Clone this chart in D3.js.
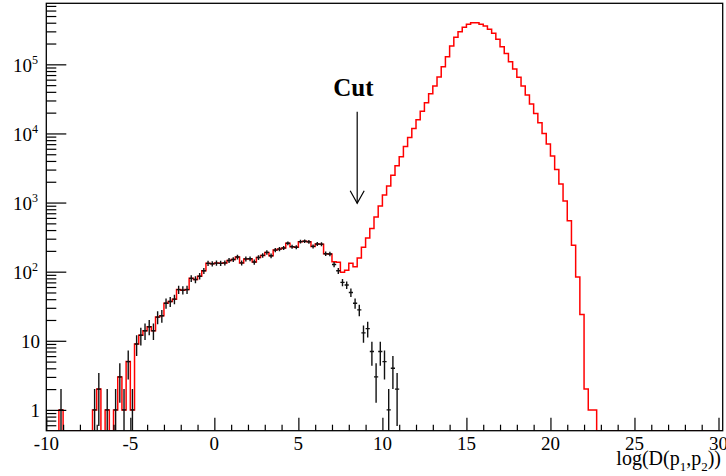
<!DOCTYPE html>
<html>
<head>
<meta charset="utf-8">
<script src="https://cdn.jsdelivr.net/npm/d3@7"></script>
<style>
  body { margin: 0; background: #fff; }
  svg { display: block; }
  text { font-family: "Liberation Serif", "Times New Roman", serif; fill: #000; }
</style>
</head>
<body>
<svg class="hist" width="726" height="476"></svg>
<script>
// histogram binning (lower edge of first bin, bin width, upper end of axis)
let histLow = -10;
let binWidth = 0.25;
let histHigh = 30.25;

// red histogram: counts per bin, starting at -10
let redCounts = [
  0, 0, 0, 1, 0, 0, 0, 0, 0, 0,
  0, 1, 2, 0, 1, 0, 1, 3, 1, 5,
  1, 9, 12, 14, 16, 14, 22, 23, 35, 37,
  40, 55, 54, 55, 80, 77, 86, 103, 132, 130,
  133, 132, 134, 145, 150, 163, 134, 153, 154, 138,
  160, 172, 190, 170, 205, 212, 220, 258, 230, 226,
  272, 276, 270, 232, 252, 250, 182, 180, 139, 137,
  98, 105, 132, 118, 158, 226, 306, 423, 620, 893,
  1282, 1730, 2494, 3404, 4592, 6480, 8770, 11840, 15800, 20900,
  27800, 37400, 48500, 65400, 92300, 128800, 184000, 246000, 296000, 343000,
  379000, 400000, 400000, 379000, 358000, 321000, 281000, 230000, 180000, 144000,
  109000, 85500, 64800, 48500, 36000, 26600, 19500, 14300, 10000, 7020,
  4710, 3020, 1850, 1050, 545, 242, 84, 24, 2, 1,
  1, 0, 0, 0, 0, 0, 0, 0, 0, 0,
  0, 0, 0, 0, 0, 0, 0, 0, 0, 0,
  0, 0, 0, 0, 0, 0, 0, 0, 0, 0,
  0
];

// black points (with sqrt(N) errors): counts per bin, starting at -10
let blackCounts = [
  0, 0, 0, 1, 0, 0, 0, 0, 0, 0,
  0, 1, 2, 0, 1, 0, 1, 3, 1, 5,
  1, 9, 12, 14, 16, 14, 22, 23, 35, 37,
  40, 55, 54, 55, 80, 77, 86, 103, 132, 130,
  133, 132, 134, 145, 150, 163, 134, 153, 154, 138,
  160, 172, 190, 170, 205, 212, 220, 258, 230, 226,
  272, 276, 270, 232, 252, 250, 182, 180, 127, 103,
  70, 64, 50, 35, 28, 13, 15, 7, 3, 7,
  5, 1, 4, 2
];

// axis ticks and labels
let xMajorTicks = [-10, -5, 0, 5, 10, 15, 20, 25, 30];
let xTickLabels = ['-10', '-5', '0', '5', '10', '15', '20', '25', '30'];
let yMajorTicks = [1, 10, 100, 1000, 10000, 100000];
let yTickBase = ['1', '10', '10', '10', '10', '10'];
let yTickExp = ['', '', '2', '3', '4', '5'];

// cut annotation
let cutValue = 8.5;
let cutArrowFrom = 20600;
let cutArrowTo = 975;
let cutLabel = 'Cut';

// frame
let frameLeft = 46.3, frameRight = 722.7, frameTop = 3.3, frameBottom = 430.7;
let yMin = 0.5, yMax = 7.64e5;

let svg = d3.select('svg.hist');

let x = d3.scaleLinear()
          .domain([histLow, histHigh])
          .range([frameLeft, frameRight]);

let y = d3.scaleLog()
          .domain([yMin, yMax])
          .range([frameBottom, frameTop]);

// clip everything drawn inside the frame
svg.append('defs')
  .append('clipPath')
  .attr('id', 'frameClip')
  .append('rect')
  .attr('x', frameLeft)
  .attr('y', frameTop)
  .attr('width', frameRight - frameLeft)
  .attr('height', frameBottom - frameTop);

let plot = svg.append('g').attr('clip-path', 'url(#frameClip)');

// red step histogram, empty bins sit on the bottom of the frame
let redBins = redCounts.map((c, i) => ({ lo: histLow + i * binWidth, n: c }));
let stepPoints = redBins.map(d => [d.lo, Math.max(d.n, yMin)]);
stepPoints.push([histLow + redBins.length * binWidth, Math.max(redCounts[redCounts.length - 1], yMin)]);

let stepLine = d3.line()
                 .x(d => x(d[0]))
                 .y(d => y(d[1]))
                 .curve(d3.curveStepAfter);

plot.append('path')
  .attr('d', stepLine(stepPoints))
  .style('fill', 'none')
  .style('stroke', '#ff0000')
  .style('stroke-width', 1.5);

// black points with error bars
let blackBins = blackCounts
  .map((c, i) => ({ lo: histLow + i * binWidth, n: c }))
  .filter(d => d.n > 0);

let pts = plot.selectAll('g.pt')
  .data(blackBins)
  .enter()
  .append('g')
  .classed('pt', true);

pts.append('line')
  .attr('x1', d => x(d.lo + binWidth / 2))
  .attr('x2', d => x(d.lo + binWidth / 2))
  .attr('y1', d => y(Math.max(d.n - Math.sqrt(d.n), yMin * 0.5)))
  .attr('y2', d => y(d.n + Math.sqrt(d.n)))
  .style('stroke', '#111')
  .style('stroke-width', 1.4);

pts.append('line')
  .attr('x1', d => x(d.lo))
  .attr('x2', d => x(d.lo + binWidth))
  .attr('y1', d => y(d.n))
  .attr('y2', d => y(d.n))
  .style('stroke', '#111')
  .style('stroke-width', 1.4);

// x axis: major and minor ticks pointing up into the frame
let xMinor = d3.range(histLow, 31, 1).filter(v => !xMajorTicks.includes(v));

svg.append('g')
  .attr('transform', `translate(0,${frameBottom})`)
  .call(d3.axisBottom(x).tickValues(xMinor).tickSize(-6).tickFormat(''))
  .call(g => g.select('.domain').remove());

svg.append('g')
  .attr('transform', `translate(0,${frameBottom})`)
  .call(d3.axisBottom(x).tickValues(xMajorTicks).tickSize(-13).tickFormat(''))
  .call(g => g.select('.domain').remove());

// y axis: log ticks, minors 2..9 in each decade
let yMinor = [];
for (let d = -1; d <= 5; d++) {
  for (let m = 2; m <= 9; m++) {
    let v = m * Math.pow(10, d);
    if (v > yMin && v < yMax) yMinor.push(v);
  }
}

svg.append('g')
  .attr('transform', `translate(${frameLeft},0)`)
  .call(d3.axisLeft(y).tickValues(yMinor).tickSize(-10).tickFormat(''))
  .call(g => g.select('.domain').remove());

svg.append('g')
  .attr('transform', `translate(${frameLeft},0)`)
  .call(d3.axisLeft(y).tickValues(yMajorTicks).tickSize(-20).tickFormat(''))
  .call(g => g.select('.domain').remove());

svg.selectAll('.tick line')
  .style('stroke', '#000')
  .style('stroke-width', 1.2);

// frame
svg.append('rect')
  .attr('x', frameLeft)
  .attr('y', frameTop)
  .attr('width', frameRight - frameLeft)
  .attr('height', frameBottom - frameTop)
  .style('fill', 'none')
  .style('stroke', '#000')
  .style('stroke-width', 1.3);

// x tick labels
svg.selectAll('text.xlab')
  .data(xMajorTicks)
  .enter()
  .append('text')
  .classed('xlab', true)
  .attr('x', d => x(d))
  .attr('y', frameBottom + 19)
  .attr('text-anchor', 'middle')
  .style('font-size', '19px')
  .text((d, i) => xTickLabels[i]);

// y tick labels, powers of ten with superscripts
let ylabs = svg.selectAll('text.ylab')
  .data(yMajorTicks)
  .enter()
  .append('text')
  .classed('ylab', true)
  .attr('x', (d, i) => yTickExp[i] ? 38 : 40)
  .attr('y', d => y(d) + 7.5)
  .attr('text-anchor', 'end')
  .style('font-size', '19px');

ylabs.append('tspan').text((d, i) => yTickBase[i]);
ylabs.append('tspan')
  .attr('dy', -8)
  .style('font-size', '12px')
  .text((d, i) => yTickExp[i]);

// x axis title with subscripts
let xt = svg.append('text')
  .attr('x', 721)
  .attr('y', 465)
  .attr('text-anchor', 'end')
  .style('font-size', '20px');

xt.append('tspan').text('log(D(p');
xt.append('tspan').attr('dy', 6).style('font-size', '13px').text('1');
xt.append('tspan').attr('dy', -6).text(',p');
xt.append('tspan').attr('dy', 6).style('font-size', '13px').text('2');
xt.append('tspan').attr('dy', -6).text('))');

// cut arrow and label
let ax = x(cutValue);
let ay0 = y(cutArrowFrom);
let ay1 = y(cutArrowTo);

svg.append('line')
  .attr('x1', ax).attr('x2', ax)
  .attr('y1', ay0).attr('y2', ay1)
  .style('stroke', '#000')
  .style('stroke-width', 1.2);

svg.append('path')
  .attr('d', `M${ax - 7},${ay1 - 12.5}L${ax},${ay1}L${ax + 7},${ay1 - 12.5}`)
  .style('fill', 'none')
  .style('stroke', '#000')
  .style('stroke-width', 1.2);

svg.append('text')
  .attr('x', ax - 24)
  .attr('y', 96)
  .style('font-size', '25px')
  .style('font-weight', 'bold')
  .text(cutLabel);
</script>
</body>
</html>
